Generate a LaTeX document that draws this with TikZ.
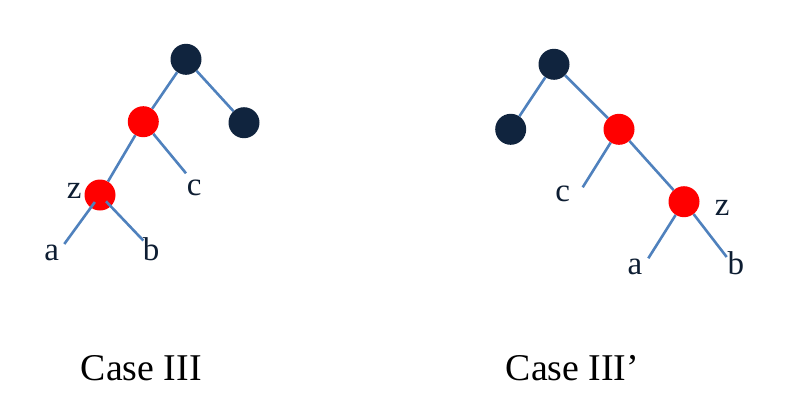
\documentclass[tikz,border=0pt]{standalone}
\usepackage{fontspec}
\setmainfont{Liberation Serif}
\definecolor{navy}{HTML}{10243E}
\definecolor{edgeblue}{HTML}{4F81BD}
\begin{document}
\begin{tikzpicture}[x=1pt,y=-1pt,
  blacknode/.style={circle,fill=navy,minimum size=31pt,inner sep=0pt},
  rednode/.style={circle,fill=red,minimum size=31pt,inner sep=0pt},
  edgeline/.style={draw=edgeblue,line width=2.6pt},
  lbl/.style={font=\fontsize{33}{33}\selectfont,inner sep=0pt,anchor=base,text=navy!80!black},
  captext/.style={font=\fontsize{37.8}{38}\selectfont,inner sep=0pt,anchor=base west}]
\useasboundingbox (0,0) rectangle (795,415);
% left tree
\node[blacknode] (L1) at (186,59.3) {};
\node[rednode] (L2) at (143.3,121.7) {};
\node[blacknode] (L3) at (244,122.7) {};
\node[rednode] (Lz) at (100,195) {};
\coordinate (Lc) at (186,173.3);
\coordinate (La) at (64.3,244);
\coordinate (Lb) at (143.3,240.5);
\draw[edgeline] (L1) -- (L2);
\draw[edgeline] (L1) -- (L3);
\draw[edgeline] (L2) -- (Lz);
\draw[edgeline] (L2) -- (Lc);
\draw[edgeline,shorten <=-7pt] (Lz) -- (La);
\draw[edgeline,shorten <=-7pt] (Lz) -- (Lb);
\node[lbl] (tLz) at (74.2,198.3) {z};
\node[lbl] (tLc) at (194.2,195.7) {c};
\node[lbl] (tLa) at (51.7,260) {a};
\node[lbl] (tLb) at (151,260) {b};
% right tree
\node[blacknode] (R1) at (554,64.3) {};
\node[blacknode] (R2) at (510.7,129.3) {};
\node[rednode] (R3) at (619,129.3) {};
\node[rednode] (Rz) at (684,201.7) {};
\coordinate (Rc) at (582.7,187.3);
\coordinate (Ra) at (648.3,258.3);
\coordinate (Rb) at (726.7,257);
\draw[edgeline] (R1) -- (R2);
\draw[edgeline] (R1) -- (R3);
\draw[edgeline] (R3) -- (Rz);
\draw[edgeline] (R3) -- (Rc);
\draw[edgeline] (Rz) -- (Ra);
\draw[edgeline] (Rz) -- (Rb);
\node[lbl] (tRc) at (562.7,201.7) {c};
\node[lbl] (tRz) at (722.3,215) {z};
\node[lbl] (tRa) at (635,274) {a};
\node[lbl] (tRb) at (735.8,274) {b};
% captions
\node[captext] (cap1) at (80.7,380) {Case III};
\node[captext] (cap2) at (505.6,380) {Case III’};
\end{tikzpicture}
\end{document}
